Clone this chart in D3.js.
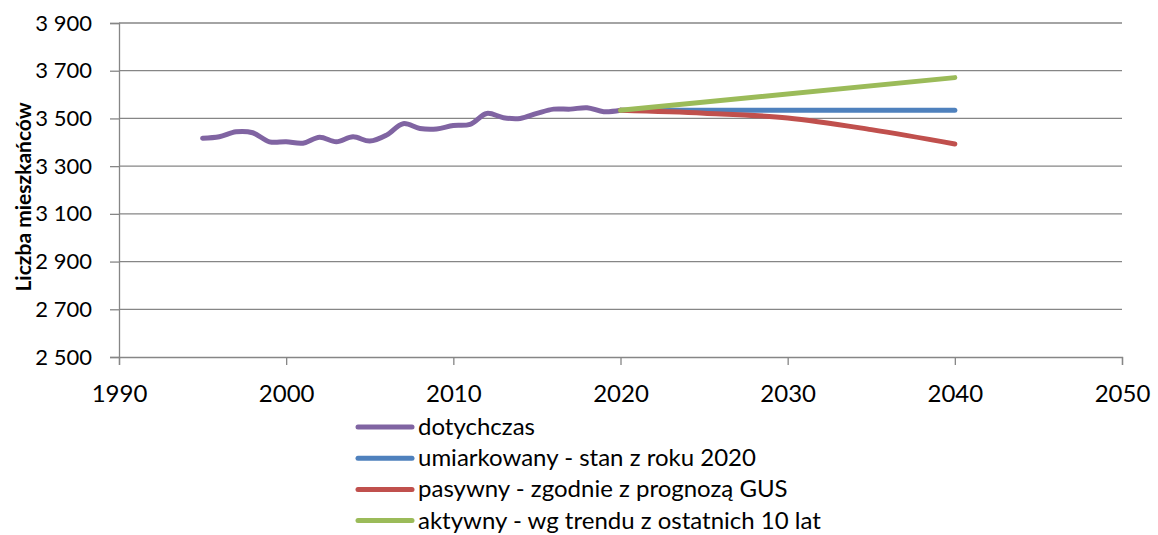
<!DOCTYPE html>
<html>
<head>
<meta charset="utf-8">
<script src="https://cdn.jsdelivr.net/npm/d3@7"></script>
<style>
  body { margin: 0; background: #fff; }
  svg { font-family: Lato, 'Open Sans', sans-serif; }
</style>
</head>
<body>
<svg id="chart" width="1158" height="535"></svg>
<script>
// data
const histYears = [1995, 1996, 1997, 1998, 1999, 2000, 2001, 2002, 2003, 2004, 2005, 2006, 2007,
  2008, 2009, 2010, 2011, 2012, 2013, 2014, 2015, 2016, 2017, 2018, 2019, 2020];
const histValues = [3417, 3423, 3444, 3440, 3402, 3402, 3396, 3421, 3402, 3423, 3405, 3430, 3478,
  3458, 3456, 3470, 3475, 3521, 3503, 3500, 3521, 3539, 3539, 3545, 3528, 3534];
const moderateYears = [2020, 2040];
const moderateValues = [3534, 3534];
const passiveYears = [2020, 2025, 2030, 2035, 2040];
const passiveValues = [3534, 3522, 3502, 3453, 3393];
const activeYears = [2020, 2040];
const activeValues = [3534, 3671];
const seriesNames = ['dotychczas', 'umiarkowany - stan z roku 2020',
  'pasywny - zgodnie z prognozą GUS', 'aktywny - wg trendu z ostatnich 10 lat'];
const seriesColors = ['#8064A2', '#4F81BD', '#C0504D', '#9BBB59'];
const xTicks = [1990, 2000, 2010, 2020, 2030, 2040, 2050];
const yTicks = [2500, 2700, 2900, 3100, 3300, 3500, 3700, 3900];

const margin = { top: 23, right: 36, bottom: 178, left: 119 };
const width = 1158 - margin.left - margin.right;
const height = 535 - margin.top - margin.bottom;

const svg = d3.select('#chart');
const g = svg.append('g').attr('transform', `translate(${margin.left},${margin.top})`);

const x = d3.scaleLinear().domain([1990, 2050]).range([0, width]);
const y = d3.scaleLinear().domain([2500, 3900]).range([height, 0]);

const fmt = (d) => d3.format(',')(d).replace(',', ' ');

// gridlines
g.selectAll('.grid')
  .data(yTicks.slice(1))
  .enter()
  .append('line')
  .attr('x1', 0)
  .attr('x2', width)
  .attr('y1', (d) => y(d))
  .attr('y2', (d) => y(d))
  .attr('stroke', '#868686')
  .attr('stroke-width', 1.3);

// axes
const yAxis = g.append('g').call(d3.axisLeft(y).tickValues(yTicks).tickFormat(fmt).tickSize(9).tickPadding(18));
const xAxis = g.append('g').attr('transform', `translate(0,${height})`)
  .call(d3.axisBottom(x).tickValues(xTicks).tickFormat(d3.format('d')).tickSize(8).tickPadding(20));
[yAxis, xAxis].forEach((a) => {
  a.select('.domain').attr('stroke', '#868686').attr('stroke-width', 1.3);
  a.selectAll('.tick line').attr('stroke', '#868686').attr('stroke-width', 1.3);
  a.selectAll('text').attr('fill', '#000').attr('font-family', 'Lato, sans-serif');
});
yAxis.selectAll('text').attr('font-size', 22);
xAxis.selectAll('text').attr('font-size', 24);

// axis title
svg.append('text')
  .attr('transform', 'translate(31,197) rotate(-90)')
  .attr('text-anchor', 'middle')
  .attr('font-size', 21)
  .attr('font-weight', 'bold')
  .text('Liczba mieszkańców');

const series = [
  { years: histYears, values: histValues, curve: d3.curveCatmullRom.alpha(0.5) },
  { years: moderateYears, values: moderateValues, curve: d3.curveLinear },
  { years: passiveYears, values: passiveValues, curve: d3.curveCatmullRom.alpha(0.5) },
  { years: activeYears, values: activeValues, curve: d3.curveLinear },
];

series.forEach((s, i) => {
  const line = d3.line()
    .x((d) => x(d[0]))
    .y((d) => y(d[1]))
    .curve(s.curve);
  g.append('path')
    .datum(s.years.map((yr, j) => [yr, s.values[j]]))
    .attr('d', line)
    .attr('fill', 'none')
    .attr('stroke', seriesColors[i])
    .attr('stroke-width', 5)
    .attr('stroke-linecap', 'round')
    .attr('stroke-linejoin', 'round');
});

// legend
const legend = svg.append('g').attr('transform', 'translate(358,427)');
seriesNames.forEach((name, i) => {
  const row = legend.append('g').attr('transform', `translate(0,${i * 31.2})`);
  row.append('line')
    .attr('x1', 0).attr('x2', 54)
    .attr('stroke', seriesColors[i])
    .attr('stroke-width', 5)
    .attr('stroke-linecap', 'round');
  row.append('text')
    .attr('x', 60)
    .attr('dy', '0.33em')
    .attr('font-size', 24)
    .text(name);
});
</script>
</body>
</html>
